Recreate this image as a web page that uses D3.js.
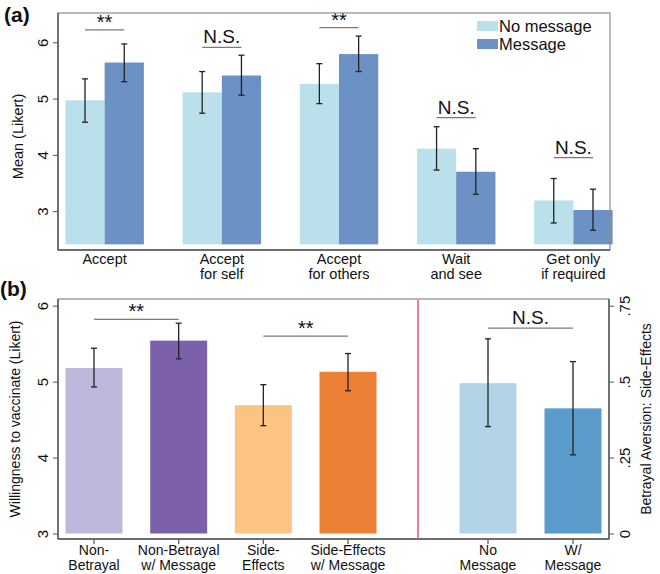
<!DOCTYPE html>
<html><head><meta charset="utf-8">
<script src="https://cdn.jsdelivr.net/npm/d3@7"></script>
<style>body{margin:0;background:#fff;} svg{display:block;font-family:"Liberation Sans",Arial,sans-serif;}</style>
</head><body>
<svg id="c" width="660" height="574"></svg>
<script>
// ---- Panel (a) data ----
const catsA = [["Accept"],["Accept","for self"],["Accept","for others"],["Wait","and see"],["Get only","if required"]];
const seriesA = ["No message","Message"];
const noMsg = [4.97, 5.11, 5.26, 4.11, 3.19];
const noMsgLo = [4.58, 4.74, 4.91, 3.73, 2.79];
const noMsgHi = [5.35, 5.48, 5.62, 4.50, 3.58];
const msg = [5.64, 5.41, 5.79, 3.70, 3.02];
const msgLo = [5.30, 5.06, 5.48, 3.30, 2.66];
const msgHi = [5.97, 5.77, 6.11, 4.11, 3.39];
const sigA = ["**","N.S.","**","N.S.","N.S."];
const sigLevelA = [6.22, 5.91, 6.26, 4.66, 3.95];
const ticksA = [3,4,5,6];

// ---- Panel (b) data ----
const catsB = [["Non-","Betrayal"],["Non-Betrayal","w/ Message"],["Side-","Effects"],["Side-Effects","w/ Message"]];
const valsB = [5.18, 5.54, 4.69, 5.13];
const loB = [4.93, 5.30, 4.42, 4.88];
const hiB = [5.44, 5.77, 4.96, 5.37];
const sigB = [["**", 0, 1, 5.82], ["**", 2, 3, 5.60]];
const catsR = [["No","Message"],["W/","Message"]];
const valsR = [0.495, 0.412];
const loR = [0.352, 0.259];
const hiR = [0.641, 0.566];
const sigR = ["N.S.", 0, 1, 0.676];
const ticksB = [3,4,5,6];
const ticksR = [0, 0.25, 0.5, 0.75];
const tickLabR = ["0", ".25", ".5", ".75"];

const svg = d3.select("#c");

function errbar(g, cx, lo, hi) {
  const e = g.append("g").attr("stroke", "#222").attr("stroke-width", 1.3);
  e.append("line").attr("x1", cx).attr("x2", cx).attr("y1", lo).attr("y2", hi);
  e.append("line").attr("x1", cx-3).attr("x2", cx+3).attr("y1", lo).attr("y2", lo);
  e.append("line").attr("x1", cx-3).attr("x2", cx+3).attr("y1", hi).attr("y2", hi);
}
function sig(g, x0, x1, y, txt) {
  g.append("line").attr("x1", x0).attr("x2", x1).attr("y1", y).attr("y2", y).attr("stroke", "#7a7a7a").attr("stroke-width", 1.2);
  g.append("text").attr("x", (x0+x1)/2).attr("y", txt === "**" ? y - 1 : y - 4).attr("text-anchor", "middle")
    .attr("font-size", txt === "**" ? 20 : 19).attr("fill", "#111").text(txt);
}
function styleTicks(ax, dx) {
  ax.select(".domain").remove();
  ax.selectAll(".tick line").attr("stroke", "#555");
  ax.selectAll(".tick text").attr("font-size", 15).attr("fill", "#111")
    .attr("font-family", "Liberation Sans, Arial, sans-serif")
    .attr("x", 0).attr("dy", "0.35em").attr("text-anchor", "middle")
    .attr("transform", `translate(${dx},0) rotate(-90)`);
}

// ================= Panel (a) =================
const A = {l:58, r:610, t:13, b:250};
const yA = d3.scaleLinear().domain([2.31, 6.52]).range([A.b, A.t]);
const xA = d3.scaleBand().domain(d3.range(catsA.length)).range([A.l - 2, A.r + 12]).paddingInner(0.33).paddingOuter(0.08);
const xS = d3.scaleBand().domain([0,1]).range([0, xA.bandwidth()]);
const colA = ["#b9e0eb", "#6b91c5"];
const base = 2.41;

const gA = svg.append("g");
const data2 = [ [noMsg,noMsgLo,noMsgHi], [msg,msgLo,msgHi] ];
data2.forEach((s, si) => {
  gA.selectAll(null).data(s[0]).join("rect")
    .attr("x", (d,i) => xA(i) + xS(si))
    .attr("width", xS.bandwidth())
    .attr("y", d => yA(d))
    .attr("height", d => yA(base) - yA(d))
    .attr("fill", colA[si]);
});
data2.forEach((s, si) => {
  s[0].forEach((d,i) => {
    const cx = xA(i) + xS(si) + xS.bandwidth()/2;
    errbar(gA, cx, yA(s[1][i]), yA(s[2][i]));
  });
});
sigA.forEach((s,i) => {
  const c0 = xA(i) + xS(0) + xS.bandwidth()/2;
  const c1 = xA(i) + xS(1) + xS.bandwidth()/2;
  sig(gA, c0, c1, yA(sigLevelA[i]), s);
});
gA.append("rect").attr("x", A.l).attr("y", A.t).attr("width", A.r - A.l).attr("height", A.b - A.t)
  .attr("fill", "none").attr("stroke", "#8a8a8a").attr("stroke-width", 1.2);
gA.append("line").attr("x1", A.l).attr("x2", A.l).attr("y1", A.t).attr("y2", A.b).attr("stroke", "#555").attr("stroke-width", 1.4);
gA.append("line").attr("x1", A.l).attr("x2", A.r).attr("y1", A.b).attr("y2", A.b).attr("stroke", "#555").attr("stroke-width", 1.4);
const axA = gA.append("g").attr("transform", `translate(${A.l},0)`)
  .call(d3.axisLeft(yA).tickValues(ticksA).tickSize(5).tickFormat(d3.format("d")));
styleTicks(axA, -15);
gA.append("text").attr("transform", `translate(23,${(A.t + A.b)/2 + 5}) rotate(-90)`)
  .attr("text-anchor", "middle").attr("font-size", 14.5).attr("fill", "#111").text("Mean (Likert)");
catsA.forEach((lines,i) => {
  const cx = xA(i) + xA.bandwidth()/2;
  lines.forEach((ln,j) => {
    gA.append("text").attr("x", cx).attr("y", 264 + j*14.5).attr("text-anchor", "middle")
      .attr("font-size", 14.5).attr("fill", "#111").text(ln);
  });
});
seriesA.forEach((s,i) => {
  gA.append("rect").attr("x", 477).attr("y", 21 + i*18).attr("width", 21).attr("height", 10).attr("fill", colA[i]);
  gA.append("text").attr("x", 499).attr("y", 32 + i*18).attr("font-size", 16.5).attr("fill", "#111").text(s);
});
svg.append("text").attr("x", 4).attr("y", 22).attr("font-size", 21).attr("font-weight", "bold").attr("fill", "#111").text("(a)");

// ================= Panel (b) =================
const B = {l:58, r:609, t:299, b:539, split:418};
const yB = d3.scaleLinear().domain([3, 6]).range([533.5, 305.7]);
const yR = d3.scaleLinear().domain([0, 0.75]).range([533.5, 305.7]);
const xB = d3.scalePoint().domain(d3.range(catsB.length)).range([94, 348]);
const xR = d3.scalePoint().domain(d3.range(catsR.length)).range([488, 573]);
const colB = ["#bdb8dc", "#7c61aa", "#fcc382", "#ec8034"];
const colR = ["#b3d4e7", "#5a9bcb"];
const bw = 57;
const gB = svg.append("g");

gB.selectAll(null).data(valsB).join("rect")
  .attr("x", (d,i) => xB(i) - bw/2).attr("width", bw)
  .attr("y", d => yB(d)).attr("height", d => yB(3) - yB(d))
  .attr("fill", (d,i) => colB[i]);
valsB.forEach((d,i) => errbar(gB, xB(i), yB(loB[i]), yB(hiB[i])));
gB.selectAll(null).data(valsR).join("rect")
  .attr("x", (d,i) => xR(i) - bw/2).attr("width", bw)
  .attr("y", d => yR(d)).attr("height", d => yR(0) - yR(d))
  .attr("fill", (d,i) => colR[i]);
valsR.forEach((d,i) => errbar(gB, xR(i), yR(loR[i]), yR(hiR[i])));

sigB.forEach(s => sig(gB, xB(s[1]), xB(s[2]), yB(s[3]), s[0]));
sig(gB, xR(sigR[1]), xR(sigR[2]), yR(sigR[3]), sigR[0]);

gB.append("rect").attr("x", B.l).attr("y", B.t).attr("width", B.r - B.l).attr("height", B.b - B.t)
  .attr("fill", "none").attr("stroke", "#8a8a8a").attr("stroke-width", 1.2);
gB.append("line").attr("x1", B.l).attr("x2", B.l).attr("y1", B.t).attr("y2", B.b).attr("stroke", "#555").attr("stroke-width", 1.4);
gB.append("line").attr("x1", B.r).attr("x2", B.r).attr("y1", B.t).attr("y2", B.b).attr("stroke", "#555").attr("stroke-width", 1.4);
gB.append("line").attr("x1", B.l).attr("x2", B.r).attr("y1", B.b).attr("y2", B.b).attr("stroke", "#555").attr("stroke-width", 1.4);
gB.append("line").attr("x1", B.split).attr("x2", B.split).attr("y1", B.t + 1).attr("y2", B.b).attr("stroke", "#e8507c").attr("stroke-width", 1.5);

const axB = gB.append("g").attr("transform", `translate(${B.l},0)`)
  .call(d3.axisLeft(yB).tickValues(ticksB).tickSize(5).tickFormat(d3.format("d")));
styleTicks(axB, -15);
const axR = gB.append("g").attr("transform", `translate(${B.r},0)`)
  .call(d3.axisRight(yR).tickValues(ticksR).tickSize(5).tickFormat((d,i) => tickLabR[i]));
styleTicks(axR, 16);
[...xB.domain().map(i => xB(i)), ...xR.domain().map(i => xR(i))].forEach(x => {
  gB.append("line").attr("x1", x).attr("x2", x).attr("y1", B.b).attr("y2", B.b + 5).attr("stroke", "#555").attr("stroke-width", 1.2);
});
catsB.forEach((lines,i) => lines.forEach((ln,j) => {
  gB.append("text").attr("x", xB(i)).attr("y", 555 + j*14.5).attr("text-anchor", "middle").attr("font-size", 14).attr("fill", "#111").text(ln);
}));
catsR.forEach((lines,i) => lines.forEach((ln,j) => {
  gB.append("text").attr("x", xR(i)).attr("y", 555 + j*14.5).attr("text-anchor", "middle").attr("font-size", 14).attr("fill", "#111").text(ln);
}));
gB.append("text").attr("transform", `translate(20,${(B.t+B.b)/2}) rotate(-90)`).attr("text-anchor", "middle")
  .attr("font-size", 14).attr("fill", "#111").text("Willingness to vaccinate (Likert)");
gB.append("text").attr("transform", `translate(651,${(B.t+B.b)/2}) rotate(-90)`).attr("text-anchor", "middle")
  .attr("font-size", 14).attr("fill", "#111").text("Betrayal Aversion: Side-Effects");
svg.append("text").attr("x", 0).attr("y", 296).attr("font-size", 21).attr("font-weight", "bold").attr("fill", "#111").text("(b)");
</script>
</body></html>
